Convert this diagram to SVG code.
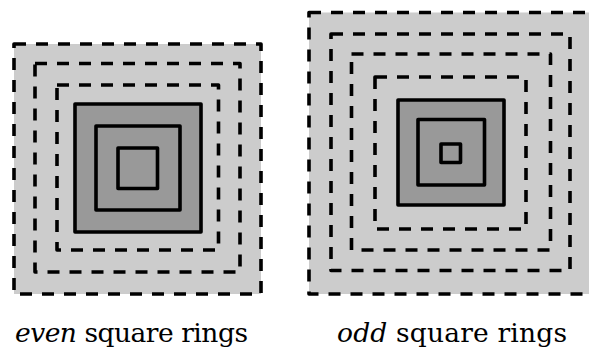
<svg xmlns="http://www.w3.org/2000/svg" width="589" height="352" viewBox="0 0 589 352">
<style>
.light{fill:#cccccc}
.dark{fill:#999999}
.dash{fill:none;stroke:#000;stroke-width:3.6;stroke-dasharray:12 10;stroke-linejoin:round}
.solid{fill:none;stroke:#000;stroke-width:3.6;stroke-linejoin:round}
.lbl{font-family:'DejaVu Serif',serif;font-size:26.5px;fill:#000}
.it{font-style:italic}
</style>
<rect width="589" height="352" fill="#fff"/>
<g id="even-rings">
  <rect class="light" x="14" y="44" width="247" height="250"/>
  <rect class="dash" x="14" y="44" width="247" height="250"/>
  <rect class="dash" x="35" y="63.5" width="205" height="208.5"/>
  <rect class="dash" x="57" y="85" width="161.5" height="165"/>
  <rect class="dark" x="75" y="104" width="126" height="128"/>
  <rect class="solid" x="75" y="104" width="126" height="128"/>
  <rect class="solid" x="96" y="126" width="84" height="84"/>
  <rect class="solid" x="118" y="148" width="39.5" height="40.5"/>
</g>
<g id="odd-rings">
  <rect class="light" x="309" y="12.5" width="282" height="281.5"/>
  <rect class="dash" x="309" y="12.5" width="282" height="281.5"/>
  <rect class="dash" x="331" y="34" width="239" height="236.5"/>
  <rect class="dash" x="351.5" y="54" width="199" height="196"/>
  <rect class="dash" x="375" y="77" width="151" height="152"/>
  <rect class="dark" x="398" y="100" width="106" height="105"/>
  <rect class="solid" x="398" y="100" width="106" height="105"/>
  <rect class="solid" x="418" y="119.5" width="66.5" height="65.5"/>
  <rect class="solid" x="441" y="144" width="19.5" height="18.5"/>
</g>
<g id="labels">
  <text class="lbl" x="15" y="342" textLength="233" lengthAdjust="spacing"><tspan class="it">even</tspan> square rings</text>
  <text class="lbl" x="337" y="342" textLength="230" lengthAdjust="spacing"><tspan class="it">odd</tspan> square rings</text>
</g>
</svg>
